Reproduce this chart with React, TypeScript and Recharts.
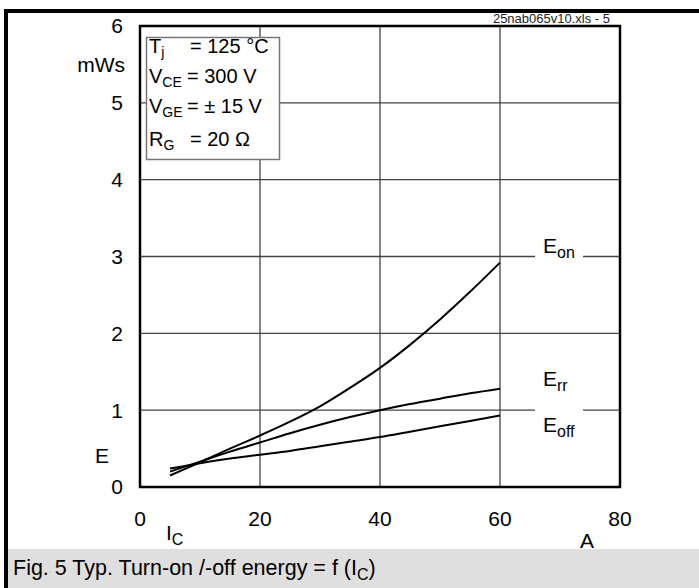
import {
  LineChart,
  Line,
  XAxis,
  YAxis,
  CartesianGrid,
  ReferenceArea,
  ReferenceDot,
} from 'recharts'

// collector current (A) and switching energies (mWs)
const current = [5, 10, 15, 20, 25, 30, 35, 40, 45, 50, 55, 60]
const eOn = [0.15, 0.32, 0.5, 0.67, 0.85, 1.05, 1.29, 1.55, 1.85, 2.18, 2.54, 2.92]
const eRr = [0.2, 0.33, 0.46, 0.58, 0.7, 0.81, 0.91, 1.0, 1.08, 1.15, 1.22, 1.28]
const eOff = [0.24, 0.31, 0.37, 0.42, 0.47, 0.53, 0.59, 0.65, 0.72, 0.79, 0.86, 0.93]

const xTicks = [0, 20, 40, 60, 80]
const yTicks = [0, 1, 2, 3, 4, 5, 6]

const curveLabels = [
  { key: 'on', sub: 'on', x: 70, y: 3, gap: true, dy: -4 },
  { key: 'rr', sub: 'rr', x: 70, y: 1.5, gap: false, dy: 14 },
  { key: 'off', sub: 'off', x: 70, y: 1, gap: true, dy: 22 },
]

const data = current.map((ic, i) => ({
  ic,
  eOn: eOn[i],
  eRr: eRr[i],
  eOff: eOff[i],
}))

const FONT = '"Liberation Sans", Arial, sans-serif'

function CurveLabel({ cx, cy, sub, gap, dy }: any) {
  return (
    <g>
      {gap && <rect x={cx - 25} y={cy - 4} width={48} height={8} fill="#fff" />}
      <text x={cx - 17} y={cy + dy} fontFamily={FONT} fontSize={21} fill="#000">
        E
        <tspan fontSize={16} dy={5}>
          {sub}
        </tspan>
      </text>
    </g>
  )
}

function Overlay() {
  return (
    <svg
      width={699}
      height={588}
      style={{ position: 'absolute', left: 0, top: 0, pointerEvents: 'none' }}
      fontFamily={FONT}
    >
      <rect x={4} y={9} width={4} height={579} fill="#000" />
      <rect x={4} y={9} width={695} height={4} fill="#000" />
      <rect x={8} y={549} width={691} height={39} fill="#dfdfdf" />
      <text x={13} y={575} fontSize={21.5} fill="#000">
        Fig. 5 Typ. Turn-on /-off energy = f (I
        <tspan fontSize={16} dy={5}>C</tspan>
        <tspan dy={-5}>)</tspan>
      </text>

      <text x={610} y={23} fontSize={13} textAnchor="end" fill="#222">
        25nab065v10.xls - 5
      </text>

      <text x={125} y={72} fontSize={21} textAnchor="end" fill="#000">mWs</text>
      <text x={95} y={463} fontSize={21} fill="#000">E</text>
      <text x={166} y={540} fontSize={21} fill="#000">
        I<tspan fontSize={16} dy={5}>C</tspan>
      </text>
      <text x={580} y={548} fontSize={21} fill="#000">A</text>

      <rect x={146.5} y={37.5} width={133} height={122} fill="#fff" stroke="#777" strokeWidth={1.5} />
      <g fontSize={20} fill="#000">
        <text x={149} y={53}>
          T<tspan fontSize={14} dy={4}>j</tspan>
          <tspan x={190} dy={-4}>= 125 °C</tspan>
        </text>
        <text x={149} y={83}>
          V<tspan fontSize={14} dy={4}>CE</tspan>
          <tspan x={187} dy={-4}>= 300 V</tspan>
        </text>
        <text x={149} y={113}>
          V<tspan fontSize={14} dy={4}>GE</tspan>
          <tspan x={187} dy={-4}>= ± 15 V</tspan>
        </text>
        <text x={149} y={146}>
          R<tspan fontSize={14} dy={4}>G</tspan>
          <tspan x={190} dy={-4}>= 20 Ω</tspan>
        </text>
      </g>
    </svg>
  )
}

export default function App() {
  return (
    <div style={{ position: 'absolute', left: 0, top: 0, width: 699, height: 588, background: '#fff' }}>
      <LineChart
        width={699}
        height={588}
        data={data}
        margin={{ top: 26, right: 79, left: 80, bottom: 61 }}
      >
        <CartesianGrid stroke="#444" strokeWidth={1.3} />
        <XAxis
          type="number"
          dataKey="ic"
          domain={[0, 80]}
          ticks={xTicks}
          interval={0}
          tickLine={false}
          axisLine={false}
          height={40}
          tickMargin={18}
          tick={{ fontSize: 21, fill: '#000', fontFamily: FONT }}
        />
        <YAxis
          type="number"
          domain={[0, 6]}
          ticks={yTicks}
          interval={0}
          tickLine={false}
          axisLine={false}
          width={60}
          tickMargin={11}
          tick={{ fontSize: 21, fill: '#000', fontFamily: FONT }}
        />
        <ReferenceArea x1={0} x2={80} y1={0} y2={6} fill="none" stroke="#000" strokeWidth={2.5} />
        <Line type="monotone" dataKey="eOn" stroke="#000" strokeWidth={2} dot={false} isAnimationActive={false} />
        <Line type="monotone" dataKey="eRr" stroke="#000" strokeWidth={2} dot={false} isAnimationActive={false} />
        <Line type="monotone" dataKey="eOff" stroke="#000" strokeWidth={2} dot={false} isAnimationActive={false} />
        {curveLabels.map((l) => (
          <ReferenceDot
            key={l.key}
            x={l.x}
            y={l.y}
            r={0}
            shape={(p: any) => <CurveLabel cx={p.cx} cy={p.cy} sub={l.sub} gap={l.gap} dy={l.dy} />}
          />
        ))}
      </LineChart>
      <Overlay />
    </div>
  )
}
